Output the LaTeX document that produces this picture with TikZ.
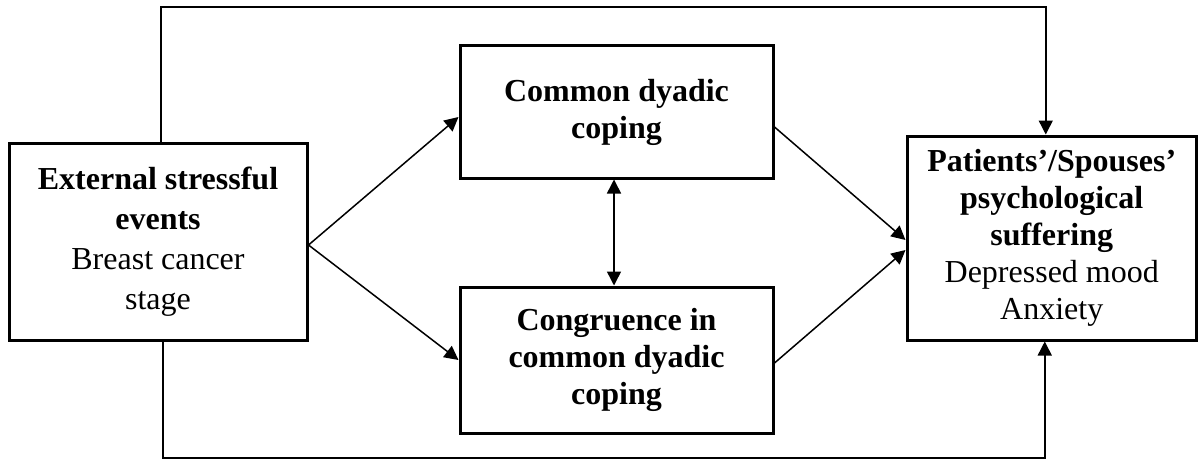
\documentclass[tikz,border=0pt]{standalone}
\usepackage{fontspec}
\setmainfont{Liberation Serif}
\usetikzlibrary{arrows.meta}
\begin{document}
\begin{tikzpicture}[x=1pt,y=-1pt,
  box/.style={draw,line width=3pt,rectangle,inner sep=0pt,align=center,font=\fontsize{32}{37}\selectfont},
  conn/.style={line width=1.5pt},
  tip/.style={-{Triangle[length=14pt,width=14pt]}},
  dtip/.style={{Triangle[length=14pt,width=14pt]}-{Triangle[length=14pt,width=14pt]}}]
\useasboundingbox (0,0) rectangle (1198,460);
\node[box,minimum width=298pt,minimum height=197pt,font=\fontsize{32}{40}\selectfont] (L) at (158,241.5)
  {\textbf{External stressful}\\\textbf{events}\\Breast cancer\\stage};
\node[box,minimum width=313pt,minimum height=132pt] (T) at (616.5,112)
  {\textbf{Common dyadic}\\\textbf{coping}};
\node[box,minimum width=313pt,minimum height=146pt] (B) at (616.5,360)
  {\textbf{Congruence in}\\\textbf{common dyadic}\\\textbf{coping}};
\node[box,minimum width=289.5pt,minimum height=204pt] (R) at (1051.75,238)
  {\textbf{Patients'/Spouses'}\\\textbf{psychological}\\\textbf{suffering}\\Depressed mood\\Anxiety};
\coordinate (top) at (0,7);
\coordinate (bot) at (0,458);
\coordinate (a) at ([xshift=3pt]L.north);
\coordinate (b) at ([xshift=-6pt]R.north);
\coordinate (c) at ([xshift=5pt]L.south);
\coordinate (d) at ([xshift=-7pt]R.south);
\coordinate (f) at ([yshift=-3.5pt]L.east);
\draw[conn,tip] (a) -- (a |- top) -| (b);
\draw[conn,tip] (c) -- (c |- bot) -| (d);
\draw[conn,tip] (f) -- ([yshift=-5pt]T.west);
\draw[conn,tip] (f) -- (B.west);
\draw[conn,tip] ([yshift=-15pt]T.east) -- ([yshift=-2pt]R.west);
\draw[conn,tip] ([yshift=-3pt]B.east) -- ([yshift=-12pt]R.west);
\draw[conn,dtip] ([xshift=-2.5pt]T.south) -- ([xshift=-2.5pt]B.north);
\end{tikzpicture}
\end{document}
